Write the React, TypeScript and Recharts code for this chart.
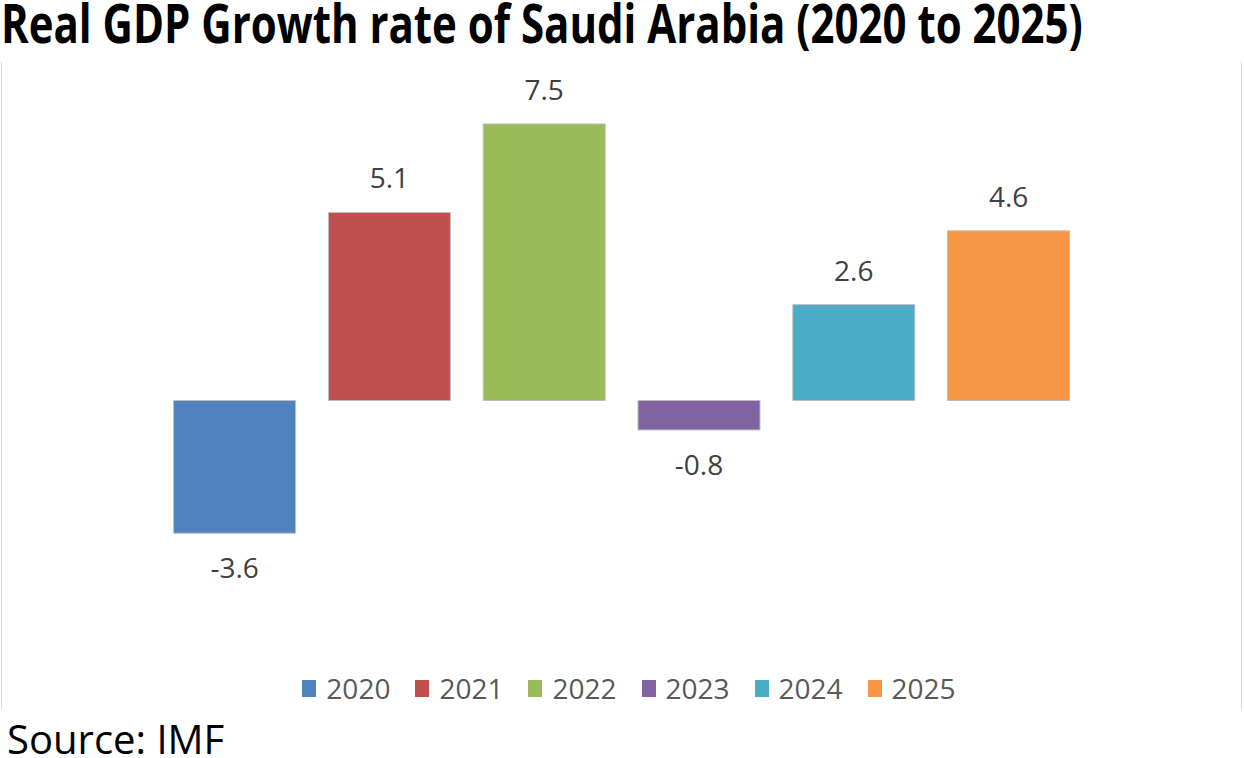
import React from 'react';
import { BarChart, Bar, XAxis, YAxis, Legend, LabelList } from 'recharts';

const years = ['2020', '2021', '2022', '2023', '2024', '2025'];
const growth = [-3.6, 5.1, 7.5, -0.8, 2.6, 4.6];
const colors = ['#4F81BD', '#C0504D', '#9BBB59', '#8064A2', '#4BACC6', '#F79646'];
const titleText = 'Real GDP Growth rate of Saudi Arabia (2020 to 2025)';
const sourceText = 'Source: IMF';

const data = years.map((y, i) => ({ year: y, [y]: growth[i] }));

const FONT = "'Open Sans', 'DejaVu Sans', sans-serif";

const renderLabel = (props: any) => {
  const vb = props.viewBox || props;
  const { x, y, width, height } = vb;
  const value = props.value;
  if (value === null || value === undefined || x === undefined) return null;
  const top = Math.min(y, y + height);
  const bottom = Math.max(y, y + height);
  const cx = x + width / 2;
  const ty = value >= 0 ? top - 24 : bottom + 45;
  return (
    <text x={cx} y={ty} textAnchor="middle" fill="#404040" fontSize={28} fontFamily={FONT}>
      {String(value)}
    </text>
  );
};

const renderLegend = () => (
  <div
    style={{
      display: 'flex',
      justifyContent: 'center',
      alignItems: 'center',
      fontFamily: FONT,
      fontSize: 28,
      color: '#595959',
      lineHeight: '30px',
      paddingLeft: 14,
    }}
  >
    {years.map((y, i) => (
      <div key={y} style={{ display: 'flex', alignItems: 'center', marginRight: i < years.length - 1 ? 25 : 0 }}>
        <span style={{ display: 'inline-block', width: 14, height: 17, background: colors[i], marginRight: 10 }} />
        <span>{y}</span>
      </div>
    ))}
  </div>
);

export default function App() {
  return (
    <div
      style={{
        position: 'absolute',
        left: 0,
        top: 0,
        width: 1244,
        height: 758,
        background: '#ffffff',
        overflow: 'hidden',
      }}
    >
      <svg
        width={1244}
        height={758}
        style={{ position: 'absolute', left: 0, top: 0 }}
      >
        <text
          x={1}
          y={33.2}
          transform="scale(1,1.3)"
          fontFamily={FONT}
          fontWeight={700}
          fontSize={42}
          fill="#000000"
        >
          {titleText}
        </text>
        <text x={7} y={754} fontFamily={FONT} fontSize={40} fill="#000000">
          {sourceText}
        </text>
        <line x1={1.5} y1={62} x2={1.5} y2={709} stroke="#D9D9D9" strokeWidth={1} />
        <line x1={1241.5} y1={62} x2={1241.5} y2={709} stroke="#D9D9D9" strokeWidth={1} />
      </svg>
      <div style={{ position: 'absolute', left: 0, top: 0 }}>
        <BarChart
          width={1244}
          height={758}
          data={data}
          stackOffset="sign"
          margin={{ top: 105.5, bottom: 136.3, left: 157.6, right: 157.6 }}
        >
          <XAxis dataKey="year" hide />
          <YAxis hide domain={[-6, 8]} allowDataOverflow />
          <Legend
            layout="horizontal"
            verticalAlign="middle"
            align="center"
            content={renderLegend}
            wrapperStyle={{ position: 'absolute', top: 673, left: 0, width: 1244 }}
          />
          {years.map((y, i) => (
            <Bar
              key={y}
              dataKey={y}
              stackId="a"
              fill={colors[i]}
              stroke="#BFBFBF"
              strokeWidth={1}
              barSize={122}
              isAnimationActive={false}
            >
              <LabelList dataKey={y} content={renderLabel} />
            </Bar>
          ))}
        </BarChart>
      </div>
    </div>
  );
}
